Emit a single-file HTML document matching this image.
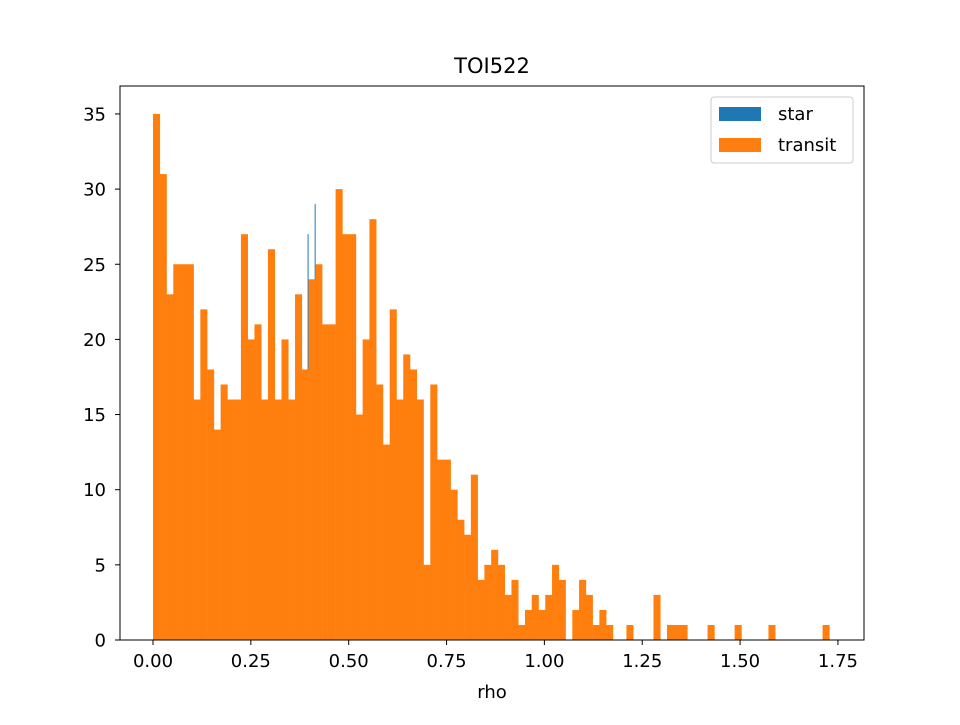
<!DOCTYPE html>
<html><head><meta charset="utf-8"><style>
body{margin:0;background:#fff}
svg{font-family:"DejaVu Sans","Liberation Sans",sans-serif}
</style></head><body>
<svg id="chart" width="960" height="720" xmlns="http://www.w3.org/2000/svg">
<rect width="960" height="720" fill="#fff"/>
<g id="bars"></g>
<g id="axes"></g>
<text x="492" y="73" font-size="21" text-anchor="middle">TOI522</text>
<text x="492" y="698" font-size="18" text-anchor="middle">rho</text>
<g>
<rect x="711" y="97" width="142" height="66" rx="3" fill="#fff" stroke="#ccc"/>
<rect x="719" y="107" width="42" height="14" fill="#1f77b4"/>
<text x="778" y="120" font-size="18">star</text>
<rect x="719" y="138" width="42" height="14" fill="#ff7f0e"/>
<text x="778" y="151" font-size="18">transit</text>
</g>
</svg>
<script>
const transitCounts=[35,31,23,25,25,25,16,22,18,14,17,16,16,27,20,21,16,26,16,20,16,23,18,24,25,21,21,30,27,27,15,20,28,17,13,22,16,19,18,16,5,17,12,12,10,8,7,11,4,5,6,5,3,4,1,2,3,2,3,5,4,0,2,4,3,1,2,1,0,0,1,0,0,0,3,0,1,1,1,0,0,0,1,0,0,0,1,0,0,0,0,1,0,0,0,0,0,0,0,1];
const binStart=0.0;
const binWidth=0.01728;
const starLefts=[0.395,0.413];
const starCounts=[27,29];
const starWidth=0.0018;
const xTicks=[0,0.25,0.5,0.75,1.0,1.25,1.5,1.75];
const xTickLabels=["0.00","0.25","0.50","0.75","1.00","1.25","1.50","1.75"];
const yTicks=[0,5,10,15,20,25,30,35];

const L=120,R=864,T=86,B=640;
const xMin=-0.0843,xMax=1.8166,yMax=36.86;
const xs=v=>L+(v-xMin)/(xMax-xMin)*(R-L);
const ys=v=>B-v/yMax*(B-T);
const NS="http://www.w3.org/2000/svg";
const bars=document.getElementById('bars');
const axes=document.getElementById('axes');
function mk(tag,attrs,parent){const e=document.createElementNS(NS,tag);for(const k in attrs)e.setAttribute(k,attrs[k]);parent.appendChild(e);return e;}
starLefts.forEach((s,i)=>{
  const r=mk('rect',{x:xs(s),y:ys(starCounts[i]),width:Math.max(1,xs(s+starWidth)-xs(s)),height:ys(0)-ys(starCounts[i]),fill:'#1f77b4'},bars);
  
  
});
transitCounts.forEach((c,i)=>{
  if(c<=0)return;
  const x0=xs(binStart+i*binWidth),x1=xs(binStart+(i+1)*binWidth);
  const r=mk('rect',{x:x0,y:ys(c),width:x1-x0+0.3,height:ys(0)-ys(c),fill:'#ff7f0e'},bars);
  
  
});
mk('rect',{x:L,y:T,width:R-L,height:B-T,fill:'none',stroke:'#000','stroke-width':1},axes);
xTicks.forEach((t,i)=>{
  const x=xs(t);
  mk('line',{x1:x,x2:x,y1:B,y2:B+5,stroke:'#000'},axes);
  const tx=mk('text',{x:x,y:B+27,'font-size':18,'text-anchor':'middle'},axes);
  tx.textContent=xTickLabels[i];
  
  
});
yTicks.forEach(t=>{
  const y=ys(t);
  mk('line',{x1:L-5,x2:L,y1:y,y2:y,stroke:'#000'},axes);
  const tx=mk('text',{x:L-14,y:y+6.5,'font-size':18,'text-anchor':'end'},axes);
  tx.textContent=String(t);
  
  
});
</script>
</body></html>
